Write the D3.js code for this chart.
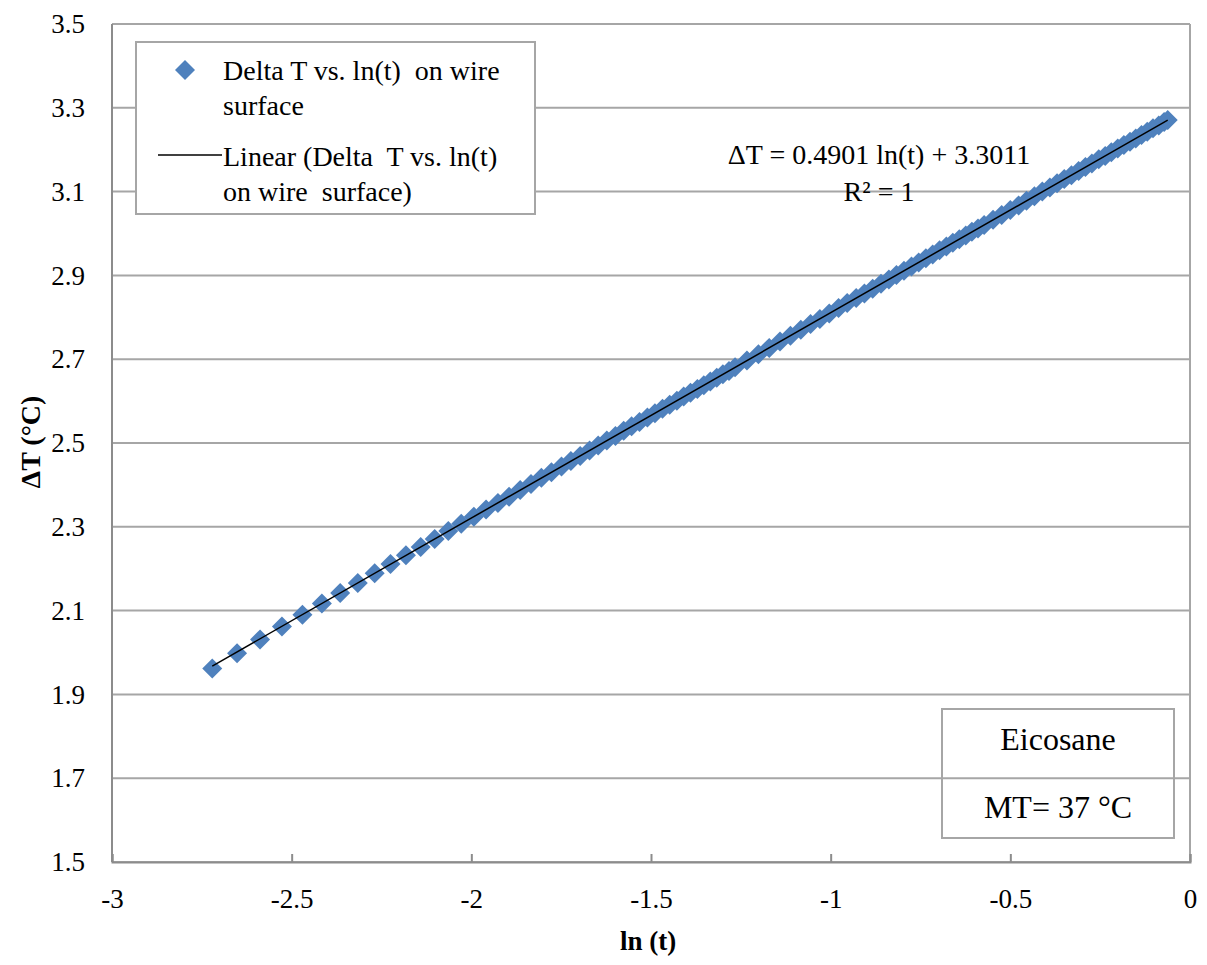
<!DOCTYPE html>
<html>
<head>
<meta charset="utf-8">
<script src="https://cdn.jsdelivr.net/npm/d3@7/dist/d3.min.js"></script>
<style>
  html, body { margin: 0; padding: 0; background: #fff; }
  svg { display: block; }
  text { font-family: "Liberation Serif", "Times New Roman", serif; fill: #000; white-space: pre; }
</style>
</head>
<body>
<svg id="chart" width="1207" height="965"></svg>
<script>
// Measured wire-surface temperature rise against the log of elapsed time
const lnT = [
  -2.721, -2.652, -2.588, -2.527, -2.470, -2.416, -2.365, -2.316, -2.269, -2.225,
  -2.182, -2.141, -2.102, -2.064, -2.028, -1.993, -1.959, -1.926, -1.895, -1.864,
  -1.834, -1.805, -1.777, -1.749, -1.723, -1.697, -1.671, -1.647, -1.623, -1.599,
  -1.576, -1.554, -1.532, -1.510, -1.489, -1.468, -1.448, -1.428, -1.409, -1.390,
  -1.371, -1.353, -1.335, -1.317, -1.300, -1.283, -1.266, -1.233, -1.201, -1.171,
  -1.141, -1.112, -1.083, -1.056, -1.030, -1.004, -0.978, -0.954, -0.929, -0.906,
  -0.883, -0.860, -0.838, -0.817, -0.796, -0.775, -0.755, -0.735, -0.716, -0.697,
  -0.678, -0.660, -0.642, -0.624, -0.607, -0.590, -0.573, -0.548, -0.524, -0.500,
  -0.477, -0.455, -0.433, -0.411, -0.390, -0.370, -0.350, -0.330, -0.310, -0.291,
  -0.273, -0.254, -0.236, -0.219, -0.201, -0.184, -0.167, -0.151, -0.135, -0.119,
  -0.103, -0.087, -0.072, -0.062
];
const deltaT = [
  1.962, 1.998, 2.031, 2.062, 2.090, 2.117, 2.142, 2.166, 2.189, 2.211,
  2.232, 2.252, 2.271, 2.290, 2.307, 2.324, 2.341, 2.357, 2.372, 2.388,
  2.402, 2.417, 2.430, 2.444, 2.457, 2.469, 2.482, 2.494, 2.506, 2.517,
  2.529, 2.540, 2.550, 2.561, 2.571, 2.582, 2.591, 2.601, 2.611, 2.620,
  2.629, 2.638, 2.647, 2.656, 2.664, 2.672, 2.681, 2.697, 2.712, 2.727,
  2.742, 2.756, 2.770, 2.784, 2.796, 2.809, 2.822, 2.834, 2.846, 2.857,
  2.868, 2.880, 2.890, 2.901, 2.911, 2.921, 2.931, 2.941, 2.950, 2.960,
  2.969, 2.978, 2.986, 2.995, 3.004, 3.012, 3.020, 3.033, 3.044, 3.056,
  3.067, 3.078, 3.089, 3.100, 3.110, 3.120, 3.130, 3.139, 3.149, 3.159,
  3.167, 3.177, 3.185, 3.194, 3.203, 3.211, 3.219, 3.227, 3.235, 3.243,
  3.251, 3.258, 3.266, 3.271
];

// Least-squares trendline: deltaT = slope * ln(t) + intercept
const fitSlope = 0.4901;
const fitIntercept = 3.3011;

const xTicks = [-3, -2.5, -2, -1.5, -1, -0.5, 0];
const yTicks = [1.5, 1.7, 1.9, 2.1, 2.3, 2.5, 2.7, 2.9, 3.1, 3.3, 3.5];

const seriesName = ["Delta T vs. ln(t)  on wire", "surface"];
const trendName = ["Linear (Delta  T vs. ln(t)", "on wire  surface)"];
const equationLines = ["\u0394T = 0.4901 ln(t) + 3.3011", "R\u00b2 = 1"];
const noteLines = ["Eicosane", "MT= 37 \u00b0C"];

const serif = '"Liberation Serif", "Times New Roman", serif';
const svg = d3.select("#chart");
const plot = { left: 112, right: 1190, top: 24, bottom: 862 };

const x = d3.scaleLinear().domain([-3, 0]).range([plot.left, plot.right]);
const y = d3.scaleLinear().domain([1.5, 3.5]).range([plot.bottom, plot.top]);

const gridColor = "#a6a6a6";
const axisColor = "#8c8c8c";
const markerColor = "#4f81bd";

// horizontal gridlines
svg.append("g")
  .selectAll("line")
  .data(yTicks)
  .join("line")
  .attr("x1", plot.left).attr("x2", plot.right)
  .attr("y1", d => y(d)).attr("y2", d => y(d))
  .attr("stroke", gridColor).attr("stroke-width", 2);

// plot border (left, right)
svg.append("line")
  .attr("x1", plot.left).attr("x2", plot.left)
  .attr("y1", plot.top).attr("y2", plot.bottom)
  .attr("stroke", axisColor).attr("stroke-width", 2);
svg.append("line")
  .attr("x1", plot.right).attr("x2", plot.right)
  .attr("y1", plot.top).attr("y2", plot.bottom)
  .attr("stroke", gridColor).attr("stroke-width", 2);

// x axis
const xAxis = svg.append("g")
  .attr("transform", `translate(0,${plot.bottom})`)
  .call(d3.axisBottom(x).tickValues(xTicks).tickSize(-8).tickFormat(d => String(d)).tickPadding(27));
xAxis.select(".domain").attr("stroke", axisColor).attr("stroke-width", 2);
xAxis.selectAll(".tick line").attr("stroke", axisColor).attr("stroke-width", 2);
xAxis.selectAll(".tick text")
  .style("font-family", serif).style("font-size", "27px").attr("fill", "#000");

// y axis labels
const yAxis = svg.append("g")
  .attr("transform", `translate(${plot.left},0)`)
  .call(d3.axisLeft(y).tickValues(yTicks).tickSize(0).tickPadding(27).tickFormat(d3.format(".1f")));
yAxis.select(".domain").remove();
yAxis.selectAll(".tick text")
  .style("font-family", serif).style("font-size", "27px").attr("fill", "#000");

// axis titles
svg.append("text")
  .attr("x", 648).attr("y", 950)
  .attr("text-anchor", "middle")
  .style("font-family", serif).style("font-size", "27px").attr("font-weight", "bold")
  .text("ln (t)");
svg.append("text")
  .attr("transform", "translate(40,442) rotate(-90)")
  .attr("text-anchor", "middle")
  .style("font-family", serif).style("font-size", "28px").attr("font-weight", "bold")
  .text("\u0394T (\u00b0C)");

// data markers
const diamond = d3.symbol().type(d3.symbolSquare).size(200);
svg.append("g")
  .selectAll("path")
  .data(lnT.map((v, i) => [v, deltaT[i]]))
  .join("path")
  .attr("d", diamond)
  .attr("transform", d => `translate(${x(d[0])},${y(d[1])}) rotate(45)`)
  .attr("fill", markerColor);

// trendline across the data range
const xExtent = d3.extent(lnT);
svg.append("line")
  .attr("x1", x(xExtent[0])).attr("y1", y(fitSlope * xExtent[0] + fitIntercept))
  .attr("x2", x(xExtent[1])).attr("y2", y(fitSlope * xExtent[1] + fitIntercept))
  .attr("stroke", "#000").attr("stroke-width", 1.5);

// equation label
svg.append("g").selectAll("text")
  .data(equationLines)
  .join("text")
  .attr("x", 879).attr("y", (d, i) => 164 + i * 37)
  .attr("text-anchor", "middle")
  .style("font-family", serif).style("font-size", "28px")
  .text(d => d);

// legend
const legend = svg.append("g");
legend.append("rect")
  .attr("x", 136).attr("y", 42).attr("width", 399).attr("height", 172)
  .attr("fill", "#fff").attr("stroke", gridColor).attr("stroke-width", 2);
legend.append("path")
  .attr("d", diamond)
  .attr("transform", "translate(185,70) rotate(45)")
  .attr("fill", markerColor);
legend.append("line")
  .attr("x1", 158).attr("x2", 222).attr("y1", 155).attr("y2", 155)
  .attr("stroke", "#000").attr("stroke-width", 1.5);
legend.selectAll("text.s")
  .data(seriesName)
  .join("text")
  .attr("class", "s")
  .attr("x", 223).attr("y", (d, i) => 80 + i * 35)
  .style("font-family", serif).style("font-size", "28px")
  .text(d => d);
legend.selectAll("text.t")
  .data(trendName)
  .join("text")
  .attr("class", "t")
  .attr("x", 223).attr("y", (d, i) => 166 + i * 35)
  .style("font-family", serif).style("font-size", "28px")
  .text(d => d);

// sample note box
const note = svg.append("g");
note.append("rect")
  .attr("x", 942).attr("y", 709).attr("width", 232).attr("height", 129)
  .attr("fill", "none").attr("stroke", gridColor).attr("stroke-width", 2);
note.selectAll("text")
  .data(noteLines)
  .join("text")
  .attr("x", 1058).attr("y", (d, i) => 750 + i * 68)
  .attr("text-anchor", "middle")
  .style("font-family", serif).style("font-size", "32px")
  .text(d => d);
</script>
</body>
</html>
